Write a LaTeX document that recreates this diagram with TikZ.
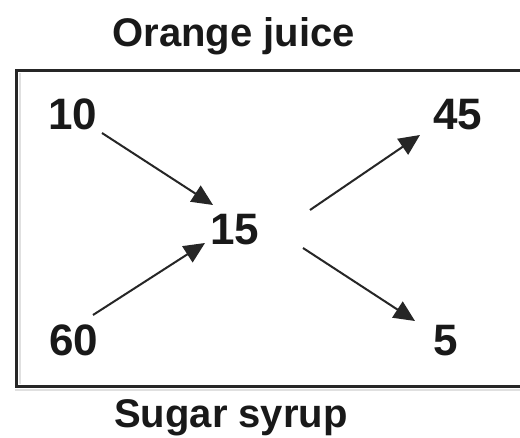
\documentclass[tikz,border=0pt]{standalone}
\usepackage{fontspec}
\setmainfont{Liberation Sans}
\usetikzlibrary{arrows.meta}
\begin{document}
\begin{tikzpicture}[x=1pt,y=-1pt,
  num/.style={font=\fontsize{44}{44}\selectfont\bfseries, inner sep=0pt, anchor=base, text=black!90},
  title/.style={font=\fontsize{40}{40}\selectfont\bfseries, inner sep=0pt, anchor=base, text=black!90},
  flow/.style={line width=2pt, draw=black!85, -{Triangle[length=21pt,width=19pt]}},
  frame/.style={line width=3.5pt, draw=black!85, line join=miter},
  shade/.style={line width=2pt, draw=black!12}]
\useasboundingbox (0,0) rectangle (520,438);
\fill[white] (0,0) rectangle (520,438);
\clip (0,0) rectangle (520,438);

% container box, open to the right
\draw[shade] (19.5,73) -- (19.5,384);
\draw[shade] (15,390) -- (530,390);
\draw[frame] (530,70.5) -- (16.5,70.5) -- (16.5,386.5) -- (530,386.5);

% labels
\node[title] (oj) at (233.5,47) {Orange juice};
\node[title] (ss) at (231,428) {Sugar syrup};

% quantities
\node[num] (t10) at (72.6,130) {10};
\node[num] (t45) at (458,130) {45};
\node[num] (t15) at (234.5,245) {15};
\node[num] (t60) at (73.5,356) {60};
\node[num] (t5)  at (446,356) {5};

% arrow end points
\coordinate (p10) at (102,133);
\coordinate (q15a) at (213,205);
\coordinate (p60) at (93,315);
\coordinate (q15b) at (205,243);
\coordinate (p15a) at (310,210);
\coordinate (q45) at (420,135);
\coordinate (p15b) at (303,248);
\coordinate (q5) at (415,321);

\draw[flow] (p10) -- (q15a);
\draw[flow] (p60) -- (q15b);
\draw[flow] (p15a) -- (q45);
\draw[flow] (p15b) -- (q5);
\end{tikzpicture}
\end{document}
